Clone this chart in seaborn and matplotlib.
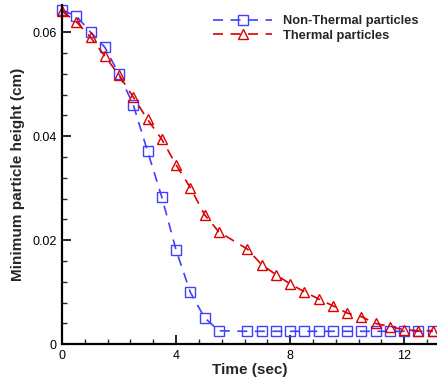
import numpy as np
import pandas as pd
import matplotlib
matplotlib.use("Agg")
import matplotlib.pyplot as plt
from matplotlib.ticker import MultipleLocator
import seaborn as sns

# Data
time_nonthermal = [0.0, 0.5, 1.0, 1.5, 2.0, 2.5, 3.0, 3.5, 4.0, 4.5, 5.0, 5.5,
                   6.5, 7.0, 7.5, 8.0, 8.5, 9.0, 9.5, 10.0, 10.5, 11.0, 11.5,
                   12.0, 12.5, 13.0]
height_nonthermal = [0.0642, 0.0631, 0.0600, 0.0571, 0.0519, 0.0460, 0.0371,
                     0.0283, 0.0181, 0.0100, 0.0051, 0.0026,
                     0.0025, 0.0025, 0.0025, 0.0025, 0.0025, 0.0025, 0.0025,
                     0.0025, 0.0025, 0.0025, 0.0025, 0.0025, 0.0025, 0.0025]

time_thermal = time_nonthermal
height_thermal = [0.0640, 0.0620, 0.0590, 0.0554, 0.0517, 0.0475, 0.0432,
                  0.0394, 0.0345, 0.0301, 0.0249, 0.0216,
                  0.0183, 0.0153, 0.0134, 0.0116, 0.0101, 0.0087, 0.0074,
                  0.0060, 0.0053, 0.0040, 0.0034, 0.0028, 0.0026, 0.0026]

labels = ["Non-Thermal particles", "Thermal particles"]
x_ticks = [0, 4, 8, 12]
y_ticks = [0, 0.02, 0.04, 0.06]

BLUE = "#4040ff"
RED = "#dd0000"

sns.set_theme(style="ticks")
plt.rcParams["font.family"] = ["Liberation Sans", "DejaVu Sans"]

fig = plt.figure(figsize=(4.37, 3.81), dpi=100)
ax = fig.add_axes([62 / 437, 1 - 344.3 / 381, 1 - 62 / 437, (344.3 - 5) / 381])

common = dict(linewidth=1.2, markersize=7.8, markerfacecolor="none",
              markeredgewidth=1.0, dashes=(6, 4.5), clip_on=False)

sns.lineplot(x=time_nonthermal, y=height_nonthermal, ax=ax, color=BLUE,
             marker="s", markeredgecolor=BLUE, sort=False, label=labels[0],
             **common)
sns.lineplot(x=time_thermal, y=height_thermal, ax=ax, color=RED,
             marker="^", markeredgecolor=RED, sort=False, label=labels[1],
             **common)

ax.set_xlim(0, 13.15)
ax.set_ylim(0, 0.0652)
ax.set_xticks(x_ticks)
ax.set_yticks(y_ticks)
ax.set_xticklabels([str(t) for t in x_ticks])
ax.set_yticklabels(["0", "0.02", "0.04", "0.06"])
ax.xaxis.set_minor_locator(MultipleLocator(0.8))
ax.yaxis.set_minor_locator(MultipleLocator(0.004))
ax.tick_params(which="major", direction="in", length=6.5, width=1.2,
               labelsize=9, colors="black", pad=4)
ax.tick_params(which="minor", direction="in", length=3.5, width=1.0)

for side in ["top", "right"]:
    ax.spines[side].set_visible(False)
for side in ["left", "bottom"]:
    ax.spines[side].set_linewidth(1.6)
    ax.spines[side].set_color("black")

ax.set_xlabel("Time (sec)", fontsize=11, fontweight="bold", labelpad=1)
ax.set_ylabel("Minimum particle height (cm)", fontsize=11, fontweight="bold",
              labelpad=5)

ax.legend(loc="upper left", bbox_to_anchor=(213 / 437, 1 - 15 / 381),
          bbox_transform=fig.transFigure, frameon=False, borderpad=0,
          borderaxespad=0, handlelength=4.6, handletextpad=0.8,
          labelspacing=0.2, prop={"weight": "bold", "size": 9.3})

fig.savefig("out.png", dpi=100)
